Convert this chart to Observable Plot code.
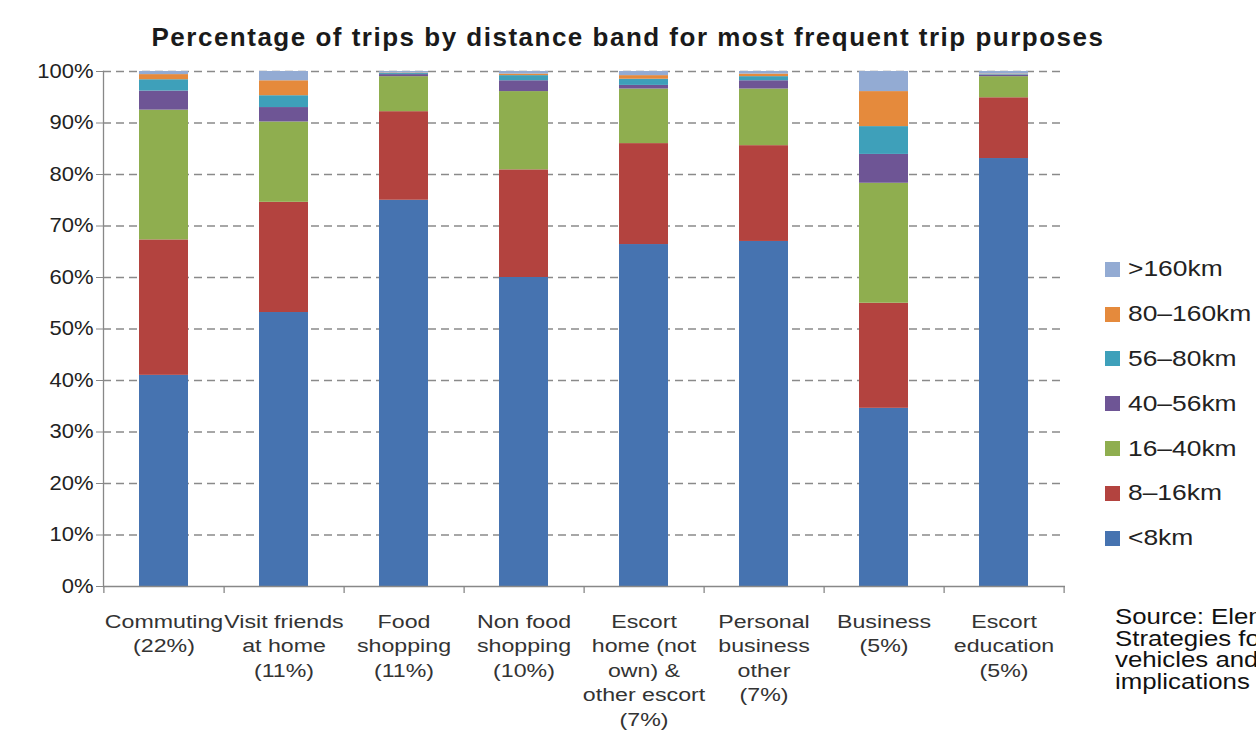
<!DOCTYPE html>
<html>
<head>
<meta charset="utf-8">
<script src="https://cdn.jsdelivr.net/npm/d3@7"></script>
<script src="https://cdn.jsdelivr.net/npm/@observablehq/plot@0.6"></script>
<style>
  html, body { margin: 0; padding: 0; background: #fff; overflow: hidden; }
  body { width: 1256px; height: 733px; position: relative; font-family: "Liberation Sans", Arial, sans-serif; }
  #title { position: absolute; left: 0; width: 1256px; top: 22px; text-align: center;
           font-weight: bold; font-size: 26px; line-height: 30px; letter-spacing: 1.5px; color: #1a1a1a; }
  #chart { position: absolute; left: 0; top: 0; }
  #legend { position: absolute; left: 1105px; top: 247px; }
  .item { display: flex; align-items: center; height: 44.8px; font-size: 22px; color: #222; white-space: nowrap; }
  .sw { width: 15px; height: 15px; margin-right: 8px; flex: none; }
  .lab { display: inline-block; transform: scaleX(1.2); transform-origin: left center; }
  #source { position: absolute; left: 1115px; top: 607px; font-size: 21.5px; line-height: 21.7px;
            color: #111; white-space: nowrap; transform: scaleX(1.2); transform-origin: left top; }
</style>
</head>
<body>
<div id="title">Percentage of trips by distance band for most frequent trip purposes</div>
<div id="chart"></div>
<div id="legend"></div>
<div id="source"></div>
<script>
// Trip purposes (share of all trips in brackets)
const purposes = ["Commuting", "Visit friends", "Food shopping", "Non food shopping",
                  "Escort home", "Personal business", "Business", "Escort education"];
const purposeLabels = [
  "Commuting\n(22%)",
  "Visit friends\nat home\n(11%)",
  "Food\nshopping\n(11%)",
  "Non food\nshopping\n(10%)",
  "Escort\nhome (not\nown) &\nother escort\n(7%)",
  "Personal\nbusiness\nother\n(7%)",
  "Business\n(5%)",
  "Escort\neducation\n(5%)"
];

// Distance bands, bottom of the stack first
const bands = ["<8km", "8–16km", "16–40km", "40–56km", "56–80km", "80–160km", ">160km"];
const bandColors = ["#4673b0", "#b3433f", "#8fae4f", "#6e5595", "#3ea0ba", "#e58a3c", "#93abd3"];

// Percentage of trips in each band, per purpose
const under8   = [41.0, 53.2, 75.0, 60.0, 66.4, 67.0, 34.6, 83.1];
const km8to16  = [26.3, 21.4, 17.2, 20.9, 19.6, 18.6, 20.4, 11.8];
const km16to40 = [25.2, 15.6,  6.8, 15.2, 10.6, 11.0, 23.3,  4.1];
const km40to56 = [ 3.7,  2.8,  0.4,  2.1,  0.7,  1.6,  5.6,  0.3];
const km56to80 = [ 2.2,  2.3,  0.2,  1.0,  1.2,  0.8,  5.4,  0.1];
const km80to160= [ 1.0,  2.9,  0.1,  0.3,  0.7,  0.5,  6.8,  0.1];
const over160  = [ 0.6,  1.8,  0.3,  0.5,  0.8,  0.5,  3.9,  0.5];

const yTicks = [0, 10, 20, 30, 40, 50, 60, 70, 80, 90, 100];

const series = [under8, km8to16, km16to40, km40to56, km56to80, km80to160, over160];
const rows = [];
series.forEach((vals, b) => vals.forEach((v, i) => rows.push({purpose: purposes[i], band: bands[b], value: v})));

const W = 1256, H = 733, mL = 103, mR = 191, mT = 71, mB = 147;
const step = (W - mL - mR) / purposes.length;

const chart = Plot.plot({
  width: W, height: H,
  marginLeft: mL, marginRight: mR, marginTop: mT, marginBottom: mB,
  style: {fontFamily: "'Liberation Sans', Arial, sans-serif", color: "#222", background: "transparent"},
  x: {domain: purposes, paddingInner: 0.59, paddingOuter: 0.295, axis: null},
  y: {domain: [0, 100], axis: null},
  color: {domain: bands, range: bandColors},
  marks: [
    Plot.gridY(yTicks.filter(d => d > 0), {stroke: "#8a8a8a", strokeOpacity: 1, strokeWidth: 1.3, strokeDasharray: "8,5"}),
    Plot.barY(rows, {x: "purpose", y: "value", fill: "band", order: bands}),
    Plot.axisY(yTicks, {label: null, tickSize: 7, tickPadding: 3, tickFormat: d => d + "%", fontSize: 20, stroke: "#888", fill: "#222"}),
    Plot.axisX({label: null, tickSize: 0, tickPadding: 24, fontSize: 19, lineHeight: 1.29, fill: "#333",
                tickFormat: d => purposeLabels[purposes.indexOf(d)]}),
    // axis lines
    Plot.ruleY([0], {stroke: "#888", strokeWidth: 1.3}),
    Plot.frame({anchor: "left", stroke: "#888", strokeWidth: 1.3}),
    // category boundary ticks below the x axis
    Plot.ruleX(purposes, {x: d => d, dx: step / 2, y1: 0, y2: 0, insetBottom: -7, stroke: "#888", strokeWidth: 1.3}),
    Plot.ruleX([purposes[0]], {x: d => d, dx: -step / 2, y1: 0, y2: 0, insetBottom: -7, stroke: "#888", strokeWidth: 1.3})
  ]
});

// Widen the axis lettering a little, keeping each label's anchor in place
function widen(selector, sx) {
  d3.select(chart).selectAll(selector).each(function () {
    let t = this.getAttribute("transform");
    if (!t) {
      const x = +this.getAttribute("x") || 0, y = +this.getAttribute("y") || 0;
      this.removeAttribute("x"); this.removeAttribute("y");
      t = `translate(${x},${y})`;
    }
    this.setAttribute("transform", `${t} scale(${sx},1)`);
  });
}
widen('g[aria-label="x-axis tick label"] text', 1.22);
widen('g[aria-label="y-axis tick label"] text', 1.1);
document.getElementById("chart").append(chart);

// Legend, largest band on top
const legend = document.getElementById("legend");
bands.slice().reverse().forEach(b => {
  const item = document.createElement("div");
  item.className = "item";
  const sw = document.createElement("span");
  sw.className = "sw";
  sw.style.background = bandColors[bands.indexOf(b)];
  const lab = document.createElement("span");
  lab.className = "lab";
  lab.textContent = b;
  item.append(sw, lab);
  legend.append(item);
});

const sourceLines = ["Source: Element Energy,", "Strategies for the uptake of electric",
                     "vehicles and associated infrastructure", "implications"];
document.getElementById("source").innerHTML = sourceLines.join("<br>");
</script>
</body>
</html>
